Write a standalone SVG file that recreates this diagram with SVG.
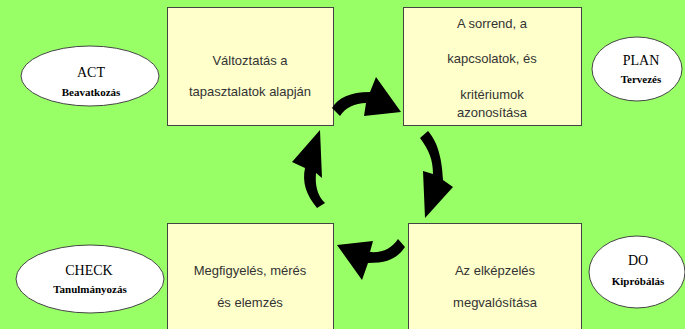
<svg xmlns="http://www.w3.org/2000/svg" width="685" height="329" viewBox="0 0 685 329">
<style>
.box{fill:#FFFFCC;stroke:#444;stroke-width:1}
.ell{fill:#fff;stroke:#444;stroke-width:1}
.bt{font-family:"Liberation Sans",Arial,sans-serif;font-size:13px;fill:#333;text-anchor:middle}
.et{font-family:"Liberation Serif","Times New Roman",serif;font-size:14px;fill:#000;text-anchor:middle}
.es{font-family:"Liberation Serif","Times New Roman",serif;font-size:11px;font-weight:bold;fill:#000;text-anchor:middle}
.arr{fill:#000}
</style>
<rect x="0" y="0" width="685" height="329" fill="#99FF66"/>
<g id="box-act">
<rect class="box" x="167.5" y="7.5" width="166" height="118"/>
<text class="bt" x="250" y="65">Változtatás a</text>
<text class="bt" x="250" y="96">tapasztalatok alapján</text>
</g>
<g id="box-plan">
<rect class="box" x="403.5" y="7.5" width="178" height="118"/>
<text class="bt" x="492" y="28">A sorrend, a</text>
<text class="bt" x="492" y="63">kapcsolatok, és</text>
<text class="bt" x="492" y="99">kritériumok</text>
<text class="bt" x="492" y="117">azonosítása</text>
</g>
<g id="box-check">
<rect class="box" x="167.5" y="223.5" width="166" height="115"/>
<text class="bt" x="250" y="275">Megfigyelés, mérés</text>
<text class="bt" x="250" y="307">és elemzés</text>
</g>
<g id="box-do">
<rect class="box" x="408.5" y="223.5" width="173" height="115"/>
<text class="bt" x="495" y="275">Az elképzelés</text>
<text class="bt" x="495" y="307">megvalósítása</text>
</g>
<g id="ell-act">
<ellipse class="ell" cx="90" cy="76" rx="69" ry="30"/>
<text class="et" x="91" y="77">ACT</text>
<text class="es" x="91" y="96">Beavatkozás</text>
</g>
<g id="ell-plan">
<ellipse class="ell" cx="637" cy="69" rx="45" ry="32"/>
<text class="et" x="641" y="65">PLAN</text>
<text class="es" x="641" y="83">Tervezés</text>
</g>
<g id="ell-check">
<ellipse class="ell" cx="90" cy="279" rx="74" ry="34"/>
<text class="et" x="89" y="275">CHECK</text>
<text class="es" x="90" y="293">Tanulmányozás</text>
</g>
<g id="ell-do">
<ellipse class="ell" cx="637" cy="272" rx="48" ry="36"/>
<text class="et" x="638" y="265">DO</text>
<text class="es" x="638" y="285">Kipróbálás</text>
</g>
<g id="connectors">
<path class="arr" d="M332,108 C338,98 350,92 370,92 L376,77 L401,112 L364,116 L366,103 C355,103 345,108 340,116 Z"/>
<path class="arr" d="M420,138 L428,131 C436,140 442,155 443,180 L453,187 L425,218 L423,171 L433,174 C433,160 429,150 420,138 Z"/>
<path class="arr" d="M405,247 C398,257 390,263 368,263 L362,280 L337,245 L373,241 L370,252 C383,253 392,248 398,239 Z"/>
<path class="arr" d="M317,208 C306,195 302,182 305,168 L292,162 L320,130 L322,178 L316,173 C315,185 317,195 325,203 Z"/>
</g>
</svg>
